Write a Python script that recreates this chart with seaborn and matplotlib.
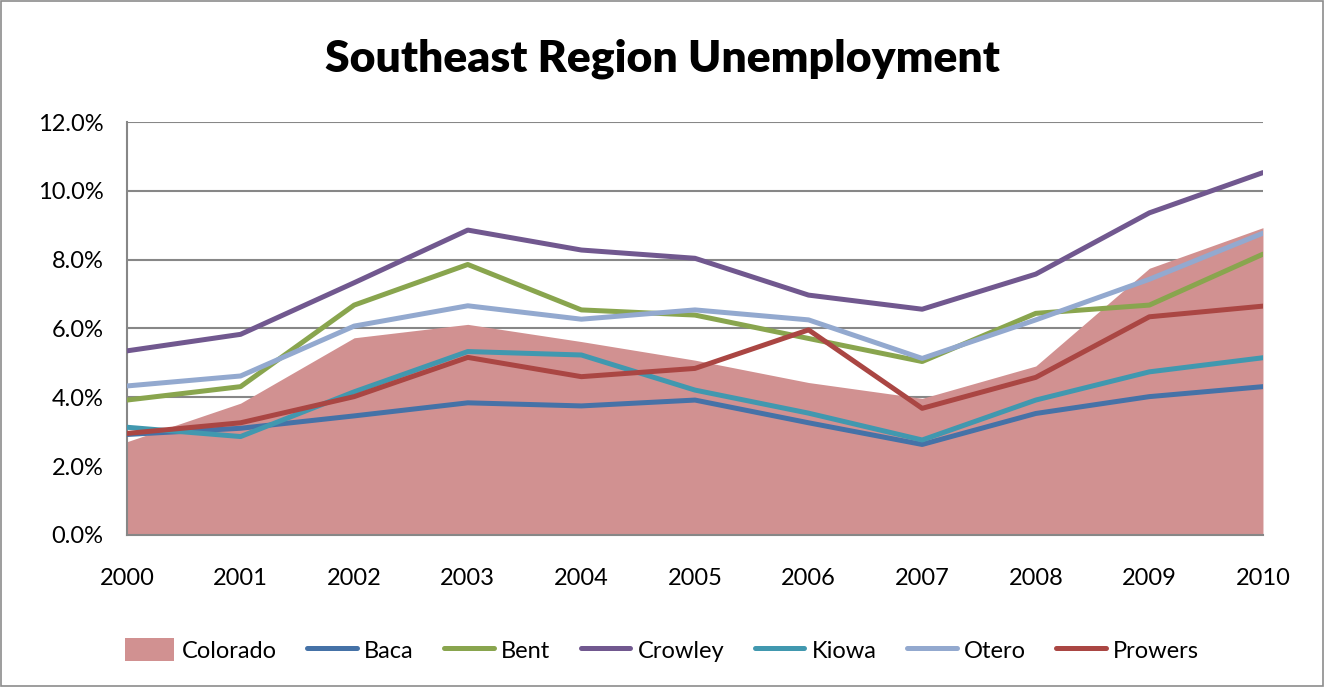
import numpy as np
import seaborn as sns
import pandas as pd
import matplotlib.pyplot as plt
from matplotlib.patches import Rectangle, Patch
from matplotlib.lines import Line2D
from matplotlib.ticker import PercentFormatter

years = [2000, 2001, 2002, 2003, 2004, 2005, 2006, 2007, 2008, 2009, 2010]

colorado = [2.71, 3.83, 5.73, 6.12, 5.62, 5.08, 4.43, 3.97, 4.91, 7.75, 8.93]
baca = [2.92, 3.10, 3.46, 3.84, 3.75, 3.92, 3.26, 2.63, 3.53, 4.02, 4.31]
bent = [3.92, 4.31, 6.68, 7.86, 6.54, 6.39, 5.71, 5.04, 6.44, 6.68, 8.16]
crowley = [5.35, 5.83, 7.33, 8.86, 8.28, 8.04, 6.97, 6.56, 7.58, 9.36, 10.53]
kiowa = [3.13, 2.86, 4.16, 5.33, 5.23, 4.21, 3.54, 2.76, 3.92, 4.74, 5.15]
otero = [4.33, 4.62, 6.07, 6.66, 6.27, 6.54, 6.25, 5.13, 6.25, 7.43, 8.77]
prowers = [2.95, 3.26, 4.02, 5.16, 4.60, 4.84, 5.96, 3.68, 4.58, 6.34, 6.65]

counties = ["Baca", "Bent", "Crowley", "Kiowa", "Otero", "Prowers"]
county_values = [baca, bent, crowley, kiowa, otero, prowers]
colors = ["#4572A7", "#89A54E", "#71588F", "#4198AF", "#93A9CF", "#AA4643"]
area_color = "#D19191"

df = pd.DataFrame({
    "year": years * len(counties),
    "county": [c for c in counties for _ in years],
    "rate": [v for vals in county_values for v in vals],
})

sns.set_style("white")
plt.rcParams["font.family"] = ["Lato", "DejaVu Sans"]
plt.rcParams["text.color"] = "black"
plt.rcParams["xtick.color"] = "black"
plt.rcParams["ytick.color"] = "black"

fig = plt.figure(figsize=(13.24, 6.87), dpi=100)
ax = fig.add_axes([0.0959, 0.2213, 0.8580, 0.6011])

# grey frame around the whole chart
fig.patches.append(Rectangle((0.001, 0.001), 0.998, 0.998, transform=fig.transFigure,
                             fill=False, edgecolor="#8c8c8c", linewidth=1.2))

ax.fill_between(years, 0, colorado, color=area_color, linewidth=0, zorder=1)

sns.lineplot(data=df, x="year", y="rate", hue="county", palette=colors,
             linewidth=3.6, legend=False, ax=ax, zorder=3)

ax.set_xlim(2000, 2010)
ax.set_ylim(0, 12)
ax.set_yticks(np.arange(0, 12.1, 2))
ax.yaxis.set_major_formatter(PercentFormatter(decimals=1))
ax.set_xticks(years)
ax.set_xticklabels([str(y) for y in years])
ax.grid(axis="y", color="#878787", linewidth=1.5, zorder=0)
ax.set_axisbelow(True)
for s in ["top", "right"]:
    ax.spines[s].set_visible(False)
for s in ["left", "bottom"]:
    ax.spines[s].set_color("#878787")
    ax.spines[s].set_linewidth(1.5)
ax.tick_params(axis="x", length=0, pad=24, labelsize=17)
ax.tick_params(axis="y", length=0, pad=17, labelsize=17)
ax.set_xlabel("")
ax.set_ylabel("")

fig.text(0.5, 0.915, "Southeast Region Unemployment", ha="center", va="center",
         fontsize=32, fontweight="heavy")

handles = [Patch(facecolor=area_color, edgecolor="none", label="Colorado")]
handles += [Line2D([0], [0], color=c, linewidth=3.6, label=n) for c, n in zip(colors, counties)]
fig.legend(handles=handles, loc="center", bbox_to_anchor=(0.5, 0.054), ncol=7,
           frameon=False, fontsize=17, handlelength=2.1, handleheight=1.1,
           handletextpad=0.3, columnspacing=1.3)

fig.savefig("out.png", dpi=100)
